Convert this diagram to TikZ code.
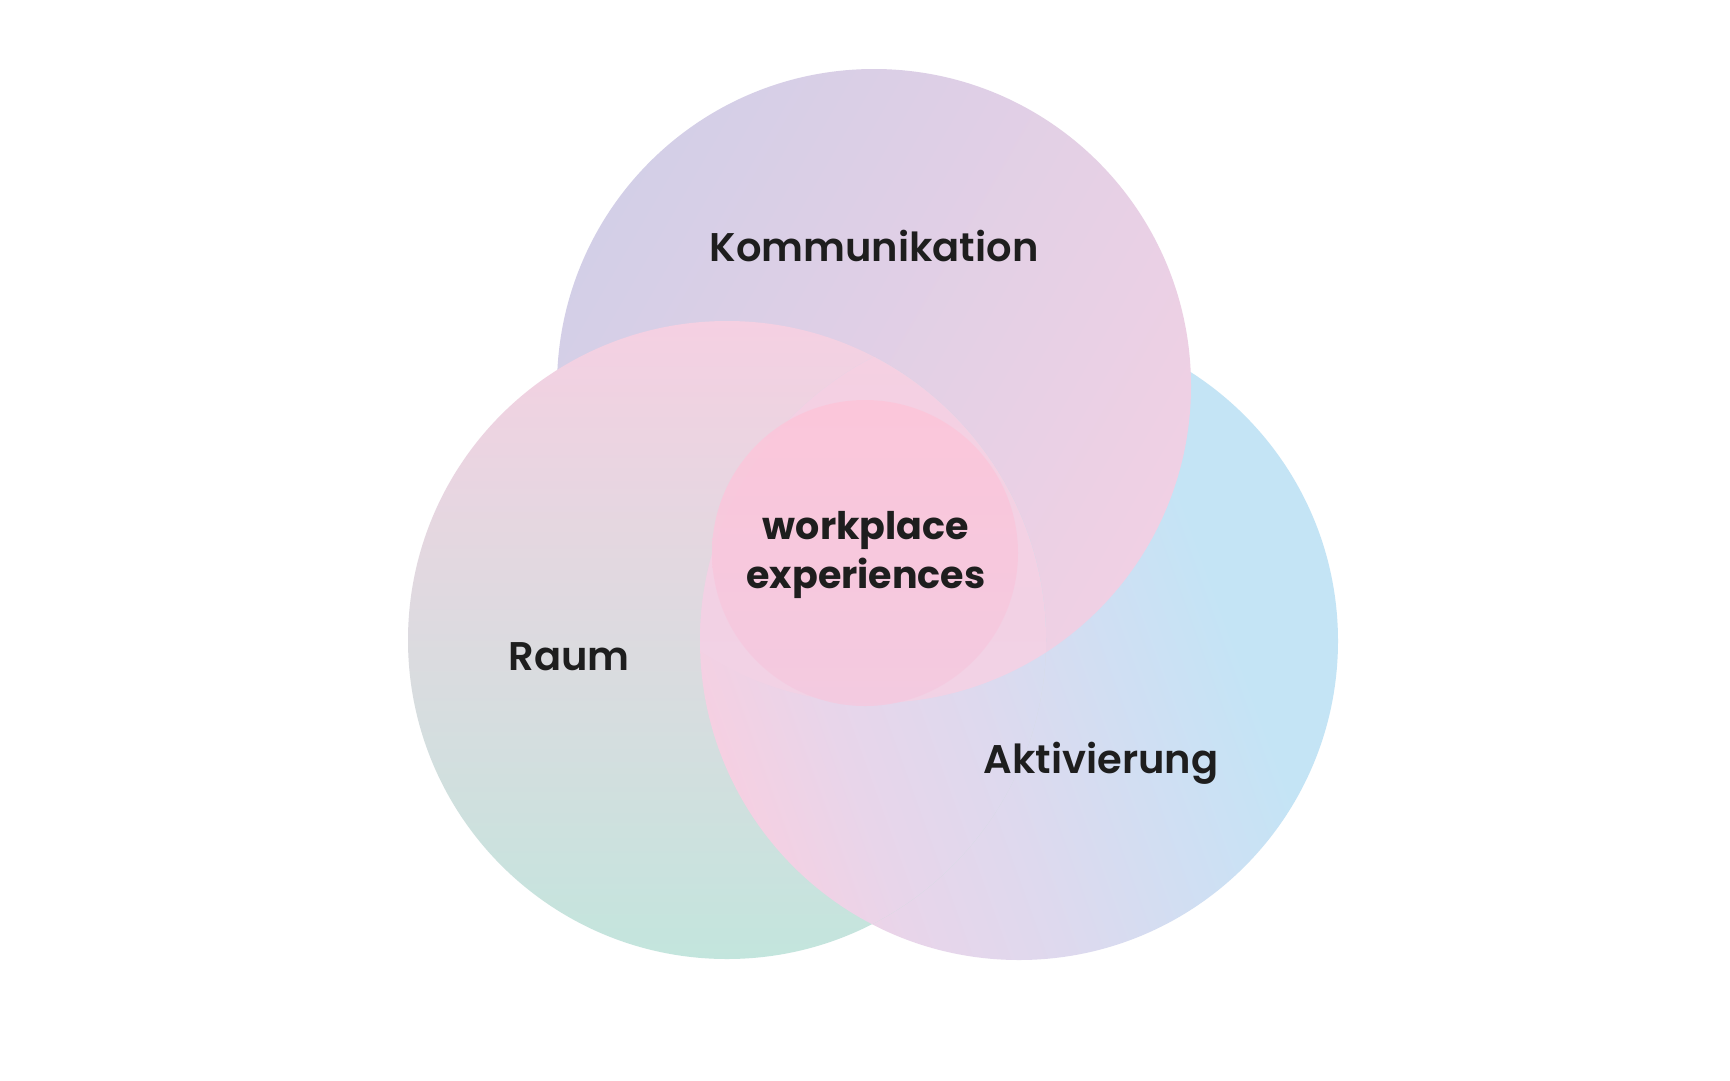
\documentclass[tikz,border=0pt]{standalone}
\usepackage{fontspec}
\setmainfont{Poppins}[UprightFont=* SemiBold, BoldFont=* Bold]
\usetikzlibrary{positioning}
\definecolor{lav}{HTML}{D3CFE7}
\definecolor{pinka}{HTML}{F0D0E4}
\definecolor{pinkb}{HTML}{F5D0E2}
\definecolor{pinkc}{HTML}{EFD3E7}
\definecolor{pinkd}{HTML}{E8D5EA}
\definecolor{greyish}{HTML}{DCDADF}
\definecolor{mint}{HTML}{C3E5DD}
\definecolor{skyb}{HTML}{C4E4F5}
\definecolor{skyc}{HTML}{CFDFF3}
\definecolor{lilac}{HTML}{DED9EE}
\definecolor{corea}{HTML}{FCC6DA}
\definecolor{coreb}{HTML}{F4CAE0}
\definecolor{ink}{HTML}{1E1E1E}
\pgfdeclarehorizontalshading{aktshade}{100bp}{color(0bp)=(pinkb); color(25bp)=(pinkb);
  color(34bp)=(pinkd); color(45bp)=(lilac); color(57bp)=(skyc); color(66bp)=(skyb); color(100bp)=(skyb)}
\tikzset{
  ring_k/.style = {top color=lav, bottom color=pinka, shading angle=60},
  ring_r/.style = {top color=pinkb, middle color=greyish, bottom color=mint, shading angle=0},
  ring_a/.style = {shading=aktshade, shading angle=20},
  ring_m/.style = {top color=pinkb, bottom color=pinkc},
  ring_c/.style = {top color=corea, bottom color=coreb, opacity=0.9},
  lbl_n/.style = {text=ink, font=\fontsize{40}{48}\selectfont, anchor=base, inner sep=0pt},
  lbl_b/.style = {text=ink, font=\fontsize{38}{49}\selectfont\bfseries, align=center, anchor=base, inner sep=0pt},
}

\begin{document}
\begin{tikzpicture}[x=1pt, y=-1pt]
  \fill[white] (0,0) rectangle (1730,1080);
  \coordinate (ck) at (874,386);
  \coordinate (cr) at (727,640);
  \coordinate (ca) at (1019,641);
  \coordinate (cc) at (865,553);

  \shade[ring_a] (ca) circle (319);
  \shade[ring_k] (ck) circle (317);
  \shade[ring_r] (cr) circle (319);
  \begin{scope}
    \clip (cr) circle (319);
    \shade[ring_a] (ca) circle (319);
  \end{scope}
  \begin{scope}
    \clip (cr) circle (319);
    \clip (ca) circle (319);
    \clip (ck) circle (317);
    \shade[ring_m] (cr) circle (319);
  \end{scope}
  \shade[ring_c] (cc) circle (153);

  \node [lbl_n] (komm) at (874,261) {Kommunikation};
  \node [lbl_n] (raum) at (569,670) {Raum};
  \node [lbl_n] (akt) at (1101,773) {Aktivierung};
  \node [lbl_b] (wx) at (866,588) {workplace\\experiences};
\end{tikzpicture}
\end{document}
